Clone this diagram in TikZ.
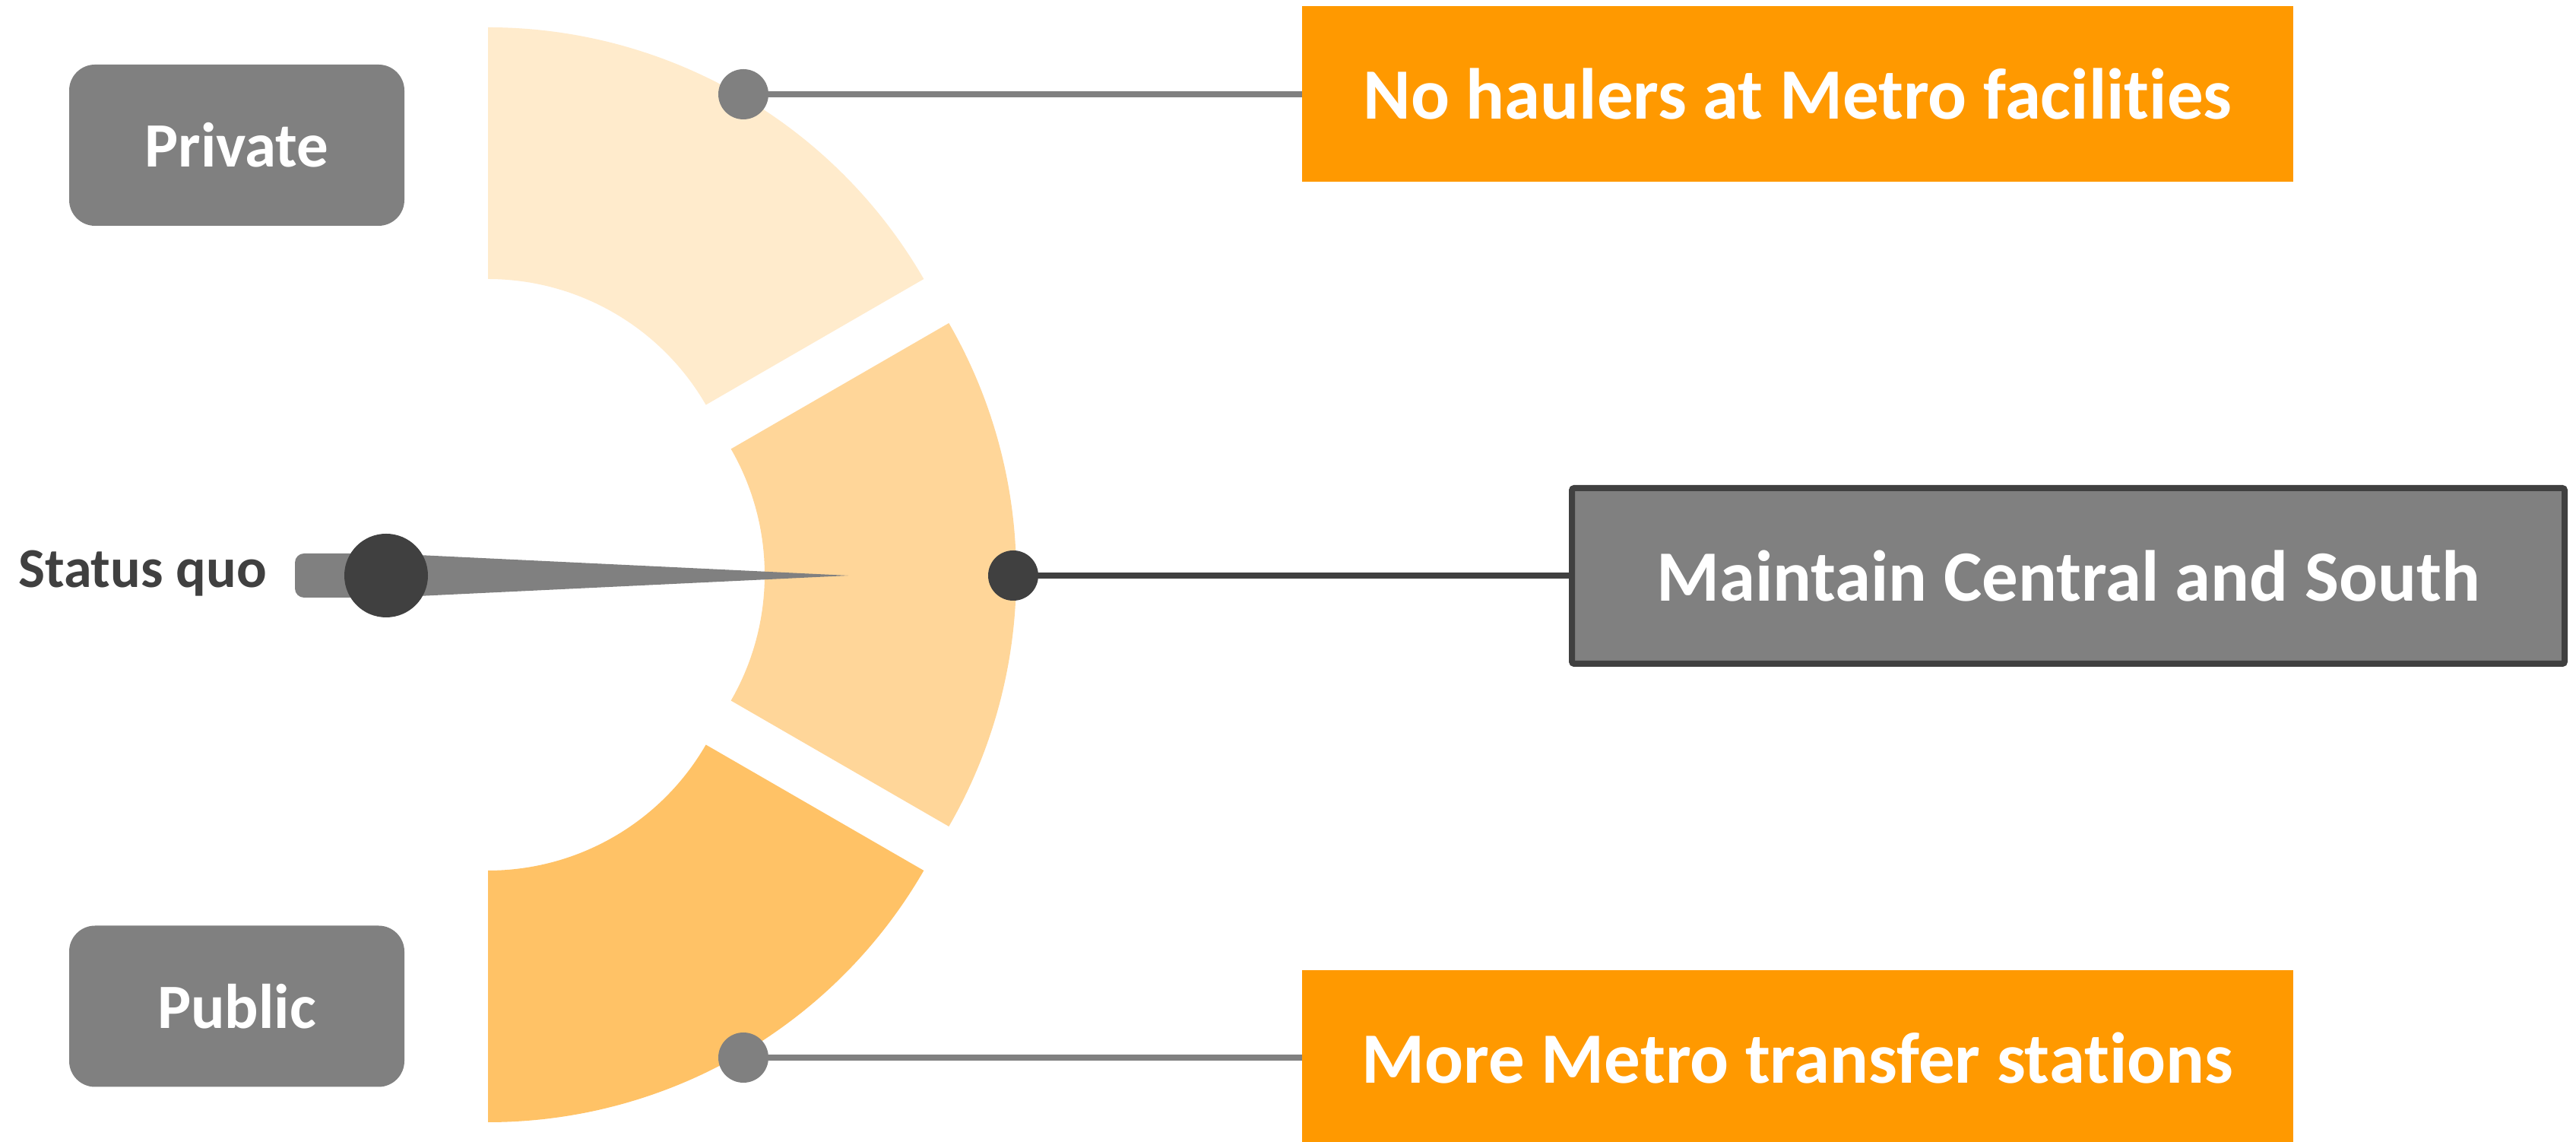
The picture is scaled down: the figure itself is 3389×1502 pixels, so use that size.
\documentclass[tikz,border=0pt]{standalone}
\usepackage{fontspec}
\setmainfont{Carlito}[Ligatures={NoCommon}]
\usetikzlibrary{calc}
\definecolor{segA}{HTML}{FFEBCC}
\definecolor{segB}{HTML}{FFD699}
\definecolor{segC}{HTML}{FFC266}
\definecolor{orng}{HTML}{FF9900}
\definecolor{gry}{HTML}{808080}
\definecolor{drk}{HTML}{404040}
\begin{document}
\begin{tikzpicture}[x=0.5pt,y=0.5pt,
  sidebox/.style={rounded corners=17pt, fill=gry, text=white, inner sep=0pt,
    font=\bfseries\fontsize{41.5}{50}\selectfont, minimum width=220.5pt, minimum height=106pt},
  optbox/.style={fill=orng, text=white, inner sep=0pt,
    font=\bfseries\fontsize{47.5}{57}\selectfont, minimum width=652pt, minimum height=115.5pt},
  midbox/.style={fill=gry, draw=drk, line width=4pt, rounded corners=1.5pt, text=white, inner sep=0pt,
    font=\bfseries\fontsize{47.5}{57}\selectfont, minimum width=653pt, minimum height=115.5pt},
  dotnode/.style={circle, inner sep=0pt, minimum size=33pt},
  link/.style={line width=3.75pt}
]
\fill[white] (0,0) rectangle (3389,1502);
\useasboundingbox (0,0) rectangle (3389,1502);

% segment centres
\coordinate (ct) at (642,804);
\coordinate (cm) at (675,746);
\coordinate (cb) at (642,688);

\fill[segA] ($(ct)+(90:662)$) arc[start angle=90, end angle=30, radius=662]
  -- ($(ct)+(30:331)$) arc[start angle=30, end angle=90, radius=331] -- cycle;
\fill[segB] ($(cm)+(30:662)$) arc[start angle=30, end angle=-30, radius=662]
  -- ($(cm)+(-30:331)$) arc[start angle=-30, end angle=30, radius=331] -- cycle;
\fill[segC] ($(cb)+(-30:662)$) arc[start angle=-30, end angle=-90, radius=662]
  -- ($(cb)+(-90:331)$) arc[start angle=-90, end angle=-30, radius=331] -- cycle;

% side labels
\node[sidebox] (priv) at (311.5,1311) {Private};
\node[sidebox] (pub) at (311.5,178.5) {Public};

% option boxes
\node[optbox] (nohaul) at (2365,1378.5) {No haulers at Metro facilities};
\node[midbox] (maint) at (2721,744.5) {Maintain Central and South};
\node[optbox] (more) at (2365,110.5) {More Metro transfer stations};

% dots
\node[dotnode, fill=gry] (dtop) at (978,1378) {};
\node[dotnode, fill=drk] (dmid) at (1333,745) {};
\node[dotnode, fill=gry] (dbot) at (978,111) {};

% links
\draw[link, gry] (dtop.east) -- (dtop.east -| nohaul.west);
\draw[line width=4pt, drk] (dmid.east) -- (dmid.east -| maint.west);
\draw[link, gry] (dbot.east) -- (dbot.east -| more.west);

% needle
\fill[gry] (508,774) -- (1116,745) -- (508,716) -- (400,716)
  to[out=180,in=-90] (388,728) -- (388,762) to[out=90,in=180] (400,774) -- cycle;
\node[circle, fill=drk, inner sep=0pt, minimum size=55pt] (pivot) at (508,745) {};
\node[anchor=base east, inner sep=0pt, text=drk, font=\bfseries\fontsize{37}{44}\selectfont]
  (sq) at (351,729) {Status quo};
\end{tikzpicture}
\end{document}
